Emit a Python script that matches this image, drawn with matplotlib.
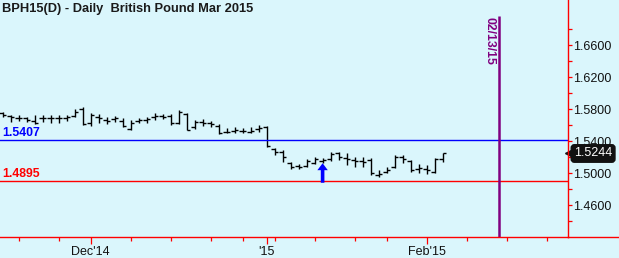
import numpy as np
import pandas as pd
import matplotlib
matplotlib.use("Agg")
import matplotlib.pyplot as plt
from matplotlib.lines import Line2D

plt.rcParams['font.family'] = ['Liberation Sans', 'DejaVu Sans']

title = "BPH15(D) - Daily  British Pound Mar 2015"
holidays = ['2014-11-27', '2014-12-25', '2015-01-01', '2015-01-19']
dates = [d for d in pd.bdate_range('2014-11-13', '2015-03-06')
         if d.strftime('%Y-%m-%d') not in holidays]

opens = [1.5746, 1.5717, 1.5692, 1.5683, 1.5650, 1.5683, 1.5683, 1.5688, 1.5692, 1.5717,
         1.5800, 1.5620, 1.5700, 1.5663, 1.5680, 1.5654, 1.5550, 1.5650, 1.5663, 1.5700,
         1.5713, 1.5717, 1.5625, 1.5738, 1.5579, 1.5640, 1.5625, 1.5592, 1.5517, 1.5525,
         1.5525, 1.5513, 1.5546, 1.5575, 1.5300, 1.5263, 1.5125, 1.5088, 1.5088, 1.5125,
         1.5150, 1.5175, 1.5250, 1.5188, 1.5163, 1.5150, 1.5163, 1.4975, 1.5013, 1.5075,
         1.5200, 1.5150, 1.5050, 1.5050, 1.5013, 1.5175]
highs = [1.5767, 1.5725, 1.5725, 1.5704, 1.5725, 1.5725, 1.5725, 1.5725, 1.5725, 1.5796,
         1.5829, 1.5746, 1.5738, 1.5704, 1.5713, 1.5683, 1.5663, 1.5683, 1.5704, 1.5746,
         1.5738, 1.5738, 1.5788, 1.5746, 1.5663, 1.5671, 1.5654, 1.5613, 1.5558, 1.5571,
         1.5558, 1.5579, 1.5600, 1.5588, 1.5313, 1.5288, 1.5141, 1.5113, 1.5175, 1.5200,
         1.5188, 1.5263, 1.5263, 1.5250, 1.5200, 1.5200, 1.5188, 1.5038, 1.5075, 1.5225,
         1.5225, 1.5163, 1.5113, 1.5100, 1.5188, 1.5250]
lows = [1.5704, 1.5642, 1.5654, 1.5642, 1.5613, 1.5642, 1.5629, 1.5629, 1.5654, 1.5696,
        1.5600, 1.5587, 1.5621, 1.5613, 1.5642, 1.5571, 1.5538, 1.5621, 1.5629, 1.5663,
        1.5671, 1.5600, 1.5613, 1.5538, 1.5546, 1.5588, 1.5579, 1.5488, 1.5496, 1.5504,
        1.5496, 1.5496, 1.5517, 1.5321, 1.5225, 1.5141, 1.5050, 1.5050, 1.5075, 1.5113,
        1.5125, 1.5150, 1.5163, 1.5100, 1.5075, 1.5075, 1.4975, 1.4950, 1.5000, 1.5063,
        1.5125, 1.5013, 1.5000, 1.4988, 1.5000, 1.5138]
closes = [1.5725, 1.5700, 1.5688, 1.5667, 1.5625, 1.5692, 1.5688, 1.5692, 1.5700, 1.5767,
          1.5613, 1.5725, 1.5683, 1.5650, 1.5688, 1.5583, 1.5625, 1.5663, 1.5675, 1.5717,
          1.5704, 1.5625, 1.5767, 1.5542, 1.5633, 1.5629, 1.5613, 1.5500, 1.5513, 1.5538,
          1.5521, 1.5529, 1.5563, 1.5333, 1.5263, 1.5200, 1.5075, 1.5075, 1.5150, 1.5175,
          1.5163, 1.5238, 1.5200, 1.5175, 1.5150, 1.5138, 1.5000, 1.4988, 1.5038, 1.5200,
          1.5175, 1.5038, 1.5063, 1.5038, 1.5175, 1.5244]

resistance = 1.5407
support = 1.4895
last_price = 1.5244
marker_date = '2015-02-13'
signal_date = '2015-01-13'
y_major = [1.46, 1.50, 1.54, 1.58, 1.62, 1.66]
y_minor = [1.44, 1.48, 1.52, 1.56, 1.60, 1.64, 1.68]

BG = '#DAF6FC'
W, H = 619, 258
fig = plt.figure(figsize=(W / 100, H / 100), dpi=100, facecolor=BG)
ax_right_px = 568
ax_bottom_px = 237
ax = fig.add_axes([0, (H - ax_bottom_px) / H, ax_right_px / W, ax_bottom_px / H])
ax.set_facecolor(BG)

ds = pd.DatetimeIndex(dates)
n = len(opens)
x = np.arange(n)
ax.vlines(x, lows, highs, color='black', lw=1.0)
ax.hlines(opens, x - 0.4, x, color='black', lw=1.0)
ax.hlines(closes, x, x + 0.4, color='black', lw=1.0)

XMIN, XMAX = -0.325, 70.675
# x ticks: first trading day of month (major) and of week (minor)
month_first = [i for i in range(1, len(ds))
               if ds[i].month != ds[i - 1].month and i <= XMAX]
week_first = [i for i in range(1, len(ds))
              if ds[i].isocalendar()[1] != ds[i - 1].isocalendar()[1] and i <= XMAX]
minor = [i for i in week_first if i not in month_first]
labels = ["'" + ds[i].strftime('%y') if ds[i].month == 1 else ds[i].strftime("%b'%y")
          for i in month_first]
ax.set_xticks(month_first)
ax.set_xticklabels(labels)
ax.set_xticks(minor, minor=True)

ax.yaxis.tick_right()
ax.set_yticks(y_major)
ax.set_yticklabels([f"{v:.4f}" for v in y_major])
ax.set_yticks(y_minor, minor=True)

ax.set_xlim(XMIN, XMAX)
ax.set_ylim(1.42, 1.71625)

for s in ['top', 'left']:
    ax.spines[s].set_visible(False)
for s in ['right', 'bottom']:
    ax.spines[s].set_color('red')
    ax.spines[s].set_linewidth(1.0)

ax.tick_params(axis='x', which='major', length=5.0, width=0.9, color='red',
               pad=1.5, labelsize=9, labelcolor='#111111')
ax.tick_params(axis='x', which='minor', length=2.8, width=0.9, color='red')
ax.tick_params(axis='y', which='both', length=3.0, width=0.9, color='red',
               pad=0.8, labelsize=9, labelcolor='#111111')

# bottom axis extends to figure edge
fig.add_artist(Line2D([ax_right_px / W, 1], [(H - ax_bottom_px) / H] * 2,
                      color='red', lw=1.0, transform=fig.transFigure))

# reference lines
ax.axhline(resistance, color='#0000FF', lw=1.0)
ax.axhline(support, color='#FF0000', lw=1.0)
ax.text(0.004, resistance + 0.0012, f"{resistance:.4f}", color='#0000FF', fontsize=8.8,
        fontweight='bold', ha='left', va='bottom',
        transform=ax.get_yaxis_transform().inverted() + ax.get_yaxis_transform()
        if False else matplotlib.transforms.blended_transform_factory(ax.transAxes, ax.transData))
ax.text(0.004, support + 0.0012, f"{support:.4f}", color='#FF0000', fontsize=8.8,
        fontweight='bold', ha='left', va='bottom',
        transform=matplotlib.transforms.blended_transform_factory(ax.transAxes, ax.transData))

# date marker
dstr = list(ds.strftime('%Y-%m-%d'))
mi = dstr.index(marker_date)
ax.vlines(mi, 1.42, 1.6963, color='#800080', lw=1.8)
ax.text(mi - 0.35, 1.6945, pd.Timestamp(marker_date).strftime('%m/%d/%y'),
        rotation=270, color='#800080', fontsize=8.8, fontweight='bold',
        ha='right', va='top')

# signal arrow
si = dstr.index(signal_date)
ax.annotate('', xy=(si, 1.5122), xytext=(si, 1.4878),
            arrowprops=dict(width=2.6, headwidth=7.5, headlength=5.0, shrink=0,
                            color='#0000FF', lw=0))

# title
ax.text(0.003, 0.987, title, transform=ax.transAxes, fontsize=9.3, fontweight='bold',
        color='#1a1a1a', ha='left', va='top')

# last price box
ax.annotate(f"{last_price:.4f}", xy=(1.0, last_price), xycoords=('axes fraction', 'data'),
            xytext=(4.3, 0), textcoords='offset points', ha='left', va='center',
            fontsize=9, color='white',
            bbox=dict(boxstyle='round,pad=0.22,rounding_size=0.25', fc='#111111', ec='#111111'),
            annotation_clip=False)
ax.plot([XMAX], [last_price], marker='<', color='#111111', ms=4, clip_on=False)
ax.set_xlim(XMIN, XMAX)

fig.savefig('out.png', dpi=100, facecolor=BG)
